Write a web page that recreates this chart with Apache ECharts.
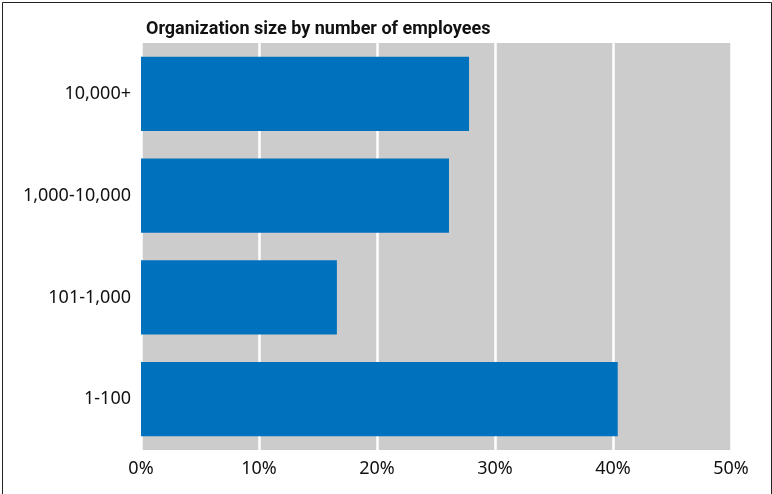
<!DOCTYPE html>
<html><head><meta charset="utf-8">
<style>html,body{margin:0;padding:0;background:#fff}#c{width:772px;height:494px}</style>
<script src="https://cdn.jsdelivr.net/npm/echarts@6/dist/echarts.min.js"></script>
</head><body><div id="c"></div>
<script>
const categories = ["1-100", "101-1,000", "1,000-10,000", "10,000+"];
const values = [40.4, 16.6, 26.1, 27.8];
const xTicks = [0, 10, 20, 30, 40, 50];
const titleText = "Organization size by number of employees";

const chart = echarts.init(document.getElementById('c'), null, {renderer: 'canvas'});
chart.setOption({
  animation: false,
  title: {
    text: titleText, left: 141, top: 15,
    textStyle: {fontFamily: "Roboto", fontWeight: "bold", fontSize: 18, color: "#111"}
  },
  graphic: [{
    type: 'rect', shape: {x: 2.5, y: 2.5, width: 769, height: 500},
    style: {fill: 'none', stroke: '#222', lineWidth: 1}, silent: true
  }],
  grid: {left: 141, right: 41, top: 43, bottom: 44, show: true, backgroundColor: '#cccccc', borderWidth: 0},
  xAxis: {
    type: 'value', min: 0, max: 50, interval: 10,
    axisLine: {show: false}, axisTick: {show: false},
    splitLine: {show: true, lineStyle: {color: '#ffffff', width: 2.5}},
    axisLabel: {formatter: v => xTicks.includes(v) ? v + '%' : '', fontFamily: "Noto Sans", fontSize: 18, color: '#111', margin: 10}
  },
  yAxis: {
    type: 'category', data: categories,
    axisLine: {show: false}, axisTick: {show: false},
    axisLabel: {fontFamily: "Noto Sans", fontSize: 18, color: '#111', margin: 10}
  },
  series: [{
    type: 'bar', data: values, barCategoryGap: '27%',
    itemStyle: {color: '#0071bc'}
  }]
});
</script></body></html>
